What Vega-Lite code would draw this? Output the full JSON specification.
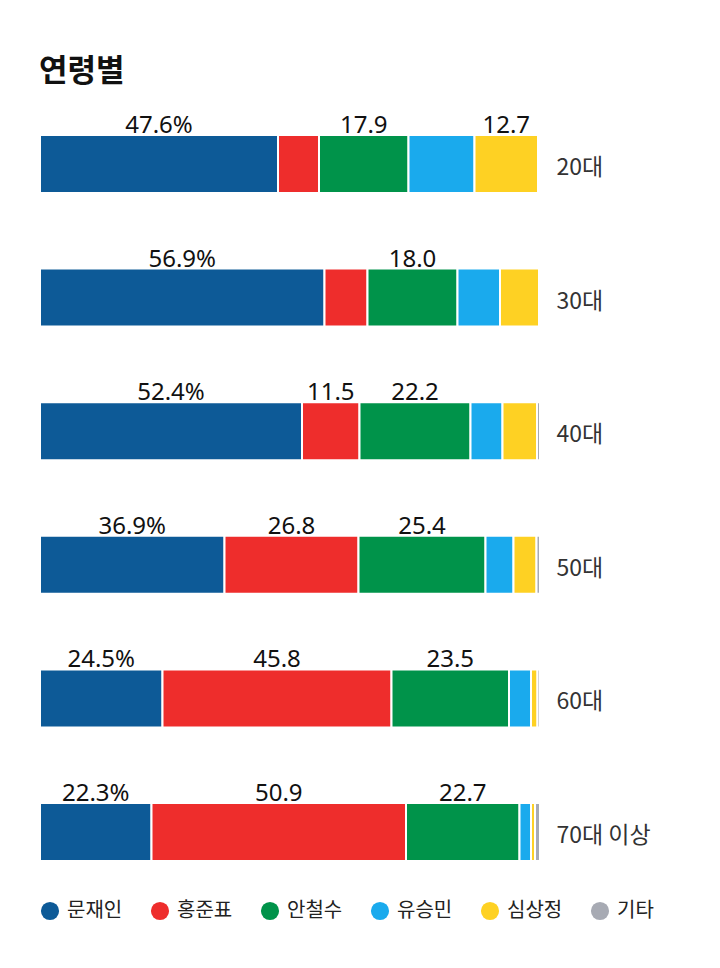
{
  "$schema": "https://vega.github.io/schema/vega-lite/v6.json",
  "autosize": {"type": "none"},
  "padding": {"left": 40, "top": 135, "right": 180, "bottom": 107},
  "width": 500,
  "height": 726,
  "background": "white",
  "config": {"view": {"stroke": null}},
  "title": {"text": "연령별", "anchor": "start", "font": "Noto Sans CJK KR", "fontSize": 31, "fontWeight": "bold", "color": "#111111", "offset": 26},
  "data": {"values": [
    {"age": "20대", "candidate": "문재인", "no": 1, "pct": 47.6, "label": "47.6%"},
    {"age": "20대", "candidate": "홍준표", "no": 2, "pct": 8.2, "label": ""},
    {"age": "20대", "candidate": "안철수", "no": 3, "pct": 17.9, "label": "17.9"},
    {"age": "20대", "candidate": "유승민", "no": 4, "pct": 13.2, "label": ""},
    {"age": "20대", "candidate": "심상정", "no": 5, "pct": 12.7, "label": "12.7"},
    {"age": "20대", "candidate": "기타", "no": 6, "pct": 0.4, "label": ""},
    {"age": "30대", "candidate": "문재인", "no": 1, "pct": 56.9, "label": "56.9%"},
    {"age": "30대", "candidate": "홍준표", "no": 2, "pct": 8.6, "label": ""},
    {"age": "30대", "candidate": "안철수", "no": 3, "pct": 18.0, "label": "18.0"},
    {"age": "30대", "candidate": "유승민", "no": 4, "pct": 8.5, "label": ""},
    {"age": "30대", "candidate": "심상정", "no": 5, "pct": 7.8, "label": ""},
    {"age": "30대", "candidate": "기타", "no": 6, "pct": 0.2, "label": ""},
    {"age": "40대", "candidate": "문재인", "no": 1, "pct": 52.4, "label": "52.4%"},
    {"age": "40대", "candidate": "홍준표", "no": 2, "pct": 11.5, "label": "11.5"},
    {"age": "40대", "candidate": "안철수", "no": 3, "pct": 22.2, "label": "22.2"},
    {"age": "40대", "candidate": "유승민", "no": 4, "pct": 6.4, "label": ""},
    {"age": "40대", "candidate": "심상정", "no": 5, "pct": 6.9, "label": ""},
    {"age": "40대", "candidate": "기타", "no": 6, "pct": 0.6, "label": ""},
    {"age": "50대", "candidate": "문재인", "no": 1, "pct": 36.9, "label": "36.9%"},
    {"age": "50대", "candidate": "홍준표", "no": 2, "pct": 26.8, "label": "26.8"},
    {"age": "50대", "candidate": "안철수", "no": 3, "pct": 25.4, "label": "25.4"},
    {"age": "50대", "candidate": "유승민", "no": 4, "pct": 5.6, "label": ""},
    {"age": "50대", "candidate": "심상정", "no": 5, "pct": 4.6, "label": ""},
    {"age": "50대", "candidate": "기타", "no": 6, "pct": 0.7, "label": ""},
    {"age": "60대", "candidate": "문재인", "no": 1, "pct": 24.5, "label": "24.5%"},
    {"age": "60대", "candidate": "홍준표", "no": 2, "pct": 45.8, "label": "45.8"},
    {"age": "60대", "candidate": "안철수", "no": 3, "pct": 23.5, "label": "23.5"},
    {"age": "60대", "candidate": "유승민", "no": 4, "pct": 4.4, "label": ""},
    {"age": "60대", "candidate": "심상정", "no": 5, "pct": 1.3, "label": ""},
    {"age": "60대", "candidate": "기타", "no": 6, "pct": 0.5, "label": ""},
    {"age": "70대 이상", "candidate": "문재인", "no": 1, "pct": 22.3, "label": "22.3%"},
    {"age": "70대 이상", "candidate": "홍준표", "no": 2, "pct": 50.9, "label": "50.9"},
    {"age": "70대 이상", "candidate": "안철수", "no": 3, "pct": 22.7, "label": "22.7"},
    {"age": "70대 이상", "candidate": "유승민", "no": 4, "pct": 2.3, "label": ""},
    {"age": "70대 이상", "candidate": "심상정", "no": 5, "pct": 0.8, "label": ""},
    {"age": "70대 이상", "candidate": "기타", "no": 6, "pct": 1.0, "label": ""}
  ]},
  "encoding": {
    "y": {"field": "age", "type": "nominal", "sort": null,
      "scale": {"paddingInner": 0.566, "paddingOuter": 0},
      "axis": {"orient": "right", "title": null, "domain": false, "ticks": false, "grid": false,
        "labelPadding": 16, "labelFontSize": 23, "labelFont": "Noto Sans CJK KR", "labelColor": "#333333", "labelOffset": 4}},
    "x": {"field": "pct", "type": "quantitative", "stack": "normalize",
      "scale": {"domain": [0, 1], "nice": false}, "axis": null},
    "order": {"field": "no", "type": "quantitative", "sort": "ascending"}
  },
  "layer": [
    {
      "mark": {"type": "bar", "stroke": "white", "strokeWidth": 2},
      "encoding": {
        "color": {"field": "candidate", "type": "nominal",
          "sort": ["문재인", "홍준표", "안철수", "유승민", "심상정", "기타"],
          "scale": {"domain": ["문재인", "홍준표", "안철수", "유승민", "심상정", "기타"],
                    "range": ["#0d5a97", "#ee2d2c", "#00934a", "#1aaaed", "#fed123", "#a7aab3"]},
          "legend": {"orient": "none", "legendX": 0, "legendY": 766, "direction": "horizontal", "title": null,
            "symbolType": "circle", "symbolSize": 330, "symbolStrokeWidth": 0, "labelFont": "Noto Sans CJK KR",
            "labelFontSize": 20, "labelColor": "#222222", "labelOffset": 7, "columnPadding": 27, "padding": 0}}
      }
    },
    {
      "mark": {"type": "text", "baseline": "alphabetic", "dy": -31, "font": "Noto Sans", "fontSize": 24, "color": "#111111"},
      "encoding": {
        "x": {"field": "pct", "type": "quantitative", "stack": "normalize", "bandPosition": 0.5},
        "detail": {"field": "candidate", "type": "nominal"},
        "text": {"field": "label", "type": "nominal"}
      }
    }
  ]
}
